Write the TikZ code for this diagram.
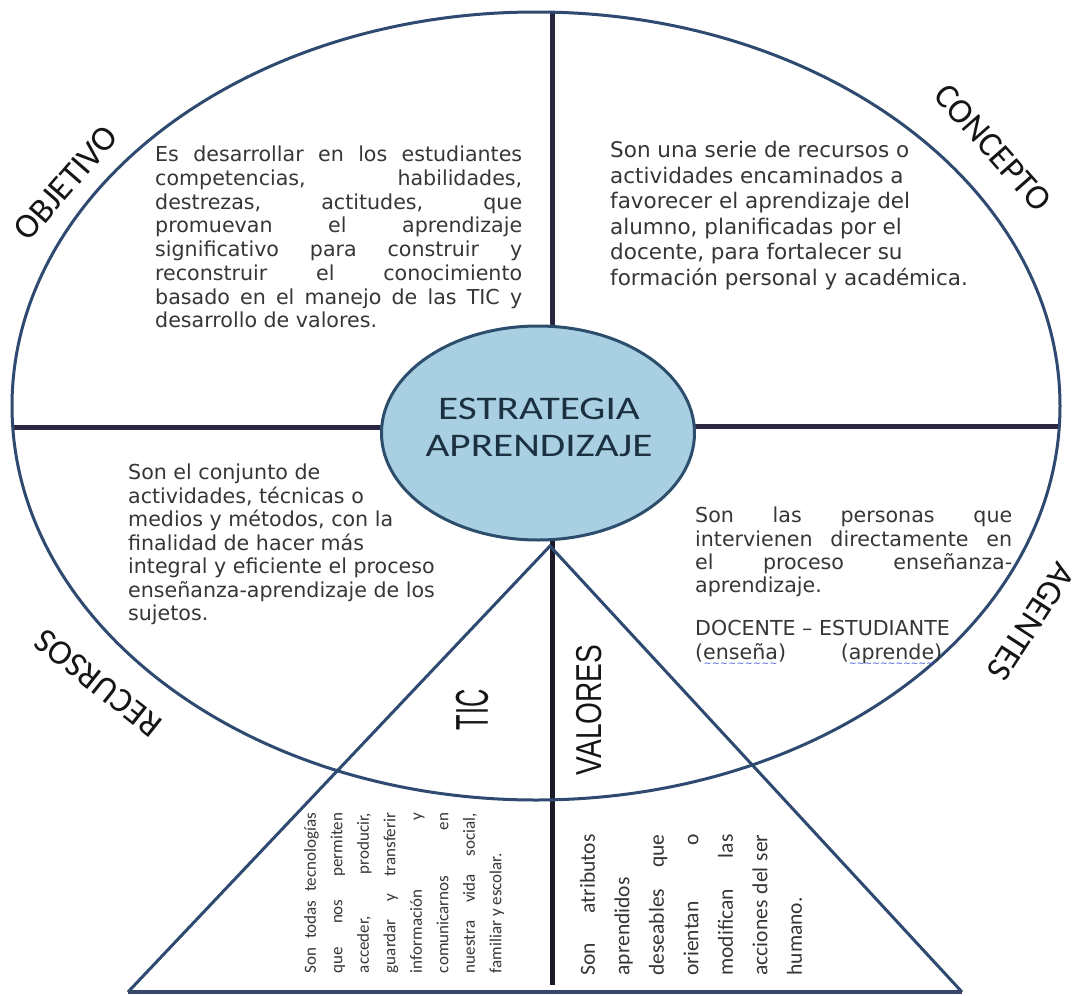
\documentclass[tikz,border=0pt]{standalone}
\usepackage{fontspec}
\setmainfont{DejaVu Sans}
\newfontfamily\carl{Carlito}
\newfontfamily\arialish{Liberation Sans}
\usetikzlibrary{shapes.geometric}
\pgfdeclarelayer{paper}
\pgfdeclarelayer{behind}
\pgfsetlayers{paper,behind,main}
\definecolor{ringblue}{HTML}{2F4A70}
\definecolor{divider}{HTML}{2A2840}
\definecolor{stemcol}{HTML}{1C1A28}
\definecolor{basecol}{HTML}{36476A}
\definecolor{hubfill}{HTML}{A9D0E2}
\definecolor{hubline}{HTML}{2C4E6C}
\definecolor{hubtext}{HTML}{1B3040}
\definecolor{bodytext}{HTML}{363636}
\definecolor{labeltext}{HTML}{151515}
\definecolor{wavecol}{HTML}{3848D0}
\newcommand{\bwave}[1]{\setbox0=\hbox{#1}\rlap{\raisebox{-7pt}[0pt][0pt]{\hbox to \wd0{\color{wavecol}\fontsize{9}{9}\selectfont\xleaders\hbox{\symbol{"223C}}\hfil}}}\box0}
\newcommand{\jline}[2]{\makebox[#1][s]{#2}}
\begin{document}
\begin{tikzpicture}[x=1pt,y=-1pt,
  ringline/.style={draw=ringblue, line width=3pt},
  divline/.style={draw=divider, line width=5pt},
  body/.style={font=\fontsize{20.6}{23.7}\selectfont, text=bodytext, inner sep=0pt, align=left, anchor=north west},
  lbl/.style={font=\carl\fontsize{35}{40}\selectfont, text=labeltext, inner sep=0pt},
  vtext/.style={rotate=90, inner sep=0pt, align=left, text=bodytext},
  bigword/.style={rotate=90, inner sep=0pt, text=labeltext}]
\begin{pgfonlayer}{paper}
\fill[white] (0,0) rectangle (1080,996);
\end{pgfonlayer}
\useasboundingbox (0,0) rectangle (1080,996);

% outer ring and hub
\node[ellipse, ringline, minimum width=1048pt, minimum height=788pt, inner sep=0pt] (ring) at (536,406) {};
\node[ellipse, draw=hubline, line width=3pt, fill=hubfill, minimum width=313pt, minimum height=214pt, inner sep=0pt] (hub) at (538,433) {};
\node[font=\carl\fontsize{33}{37}\selectfont, text=hubtext, align=center, inner sep=0pt] (hubtxt) at (539,427)
  {\scalebox{1.25}[1]{ESTRATEGIA}\\\scalebox{1.25}[1]{APRENDIZAJE}};

% fixed points
\coordinate (ringN) at (552,12);
\coordinate (ringW) at (12,427);
\coordinate (ringE) at (1060,426);
\coordinate (apex) at (550,546);
\coordinate (baseL) at (128,992);
\coordinate (baseR) at (962,992);
\coordinate (stemEnd) at (552,985);

\begin{pgfonlayer}{behind}
\draw[divline] (ringN) -- (ringN |- hub.center);
\draw[divline] (ringW) -- (ringW -| hub.center);
\draw[divline] (ringE) -- (ringE -| hub.center);
\draw[divline, draw=stemcol] (stemEnd |- hub.center) -- (stemEnd);
\draw[ringline] (baseL) -- (apex) -- (baseR);
\end{pgfonlayer}
\draw[draw=basecol, line width=4.5pt] (baseL) -- (baseR);

% quadrant labels
\node[lbl, rotate=49] (lobj) at (66,183) {OBJETIVO};
\node[lbl, rotate=-48.6] (lcon) at (993,148) {CONCEPTO};
\node[lbl, rotate=141.6] (lrec) at (98,683) {RECURSOS};
\node[lbl, rotate=-123] (lage) at (1031,622) {AGENTES};

% quadrant texts
\node[body] (tobj) at (155,146) {%
\jline{367pt}{Es desarrollar en los estudiantes}\\
\jline{367pt}{competencias, habilidades,}\\
\jline{367pt}{destrezas, actitudes, que}\\
\jline{367pt}{promuevan el aprendizaje}\\
\jline{367pt}{significativo para construir y}\\
\jline{367pt}{reconstruir el conocimiento}\\
\jline{367pt}{basado en el manejo de las TIC y}\\
desarrollo de valores.};

\node[body, font=\fontsize{21.5}{25.5}\selectfont] (tcon) at (610,141) {%
Son una serie de recursos o\\
actividades encaminados a\\
favorecer el aprendizaje del\\
alumno, planificadas por el\\
docente, para fortalecer su\\
formación personal y académica.};

\node[body, font=\fontsize{20.6}{23.5}\selectfont] (trec) at (128,464) {%
Son el conjunto de\\
actividades, técnicas o\\
medios y métodos, con la\\
finalidad de hacer más\\
integral y eficiente el proceso\\
enseñanza-aprendizaje de los\\
sujetos.};

\node[body, font=\fontsize{20.6}{23.3}\selectfont] (tage) at (695,507) {%
\jline{317pt}{Son las personas que}\\
\jline{317pt}{intervienen directamente en}\\
\jline{317pt}{el proceso enseñanza-}\\
aprendizaje.\\[19.7pt]
DOCENTE – ESTUDIANTE\\
\jline{247pt}{(\bwave{enseña}) (\bwave{aprende})}};

% triangle titles
\node[bigword, font=\arialish\fontsize{46}{50}\selectfont] (ttic) at (472,710) {\scalebox{0.55}[1]{TIC}};
\node[bigword, font=\arialish\fontsize{36}{40}\selectfont] (tval) at (589,710) {\scalebox{0.78}[1]{VALORES}};

% triangle texts
\node[vtext, font=\carl\fontsize{17}{26.5}\selectfont] (dtic) at (404,893) {%
\jline{160pt}{Son todas tecnologías}\\
\jline{160pt}{que nos permiten}\\
\jline{160pt}{acceder, producir,}\\
\jline{160pt}{guardar y transferir}\\
\jline{160pt}{información y}\\
\jline{160pt}{comunicarnos en}\\
\jline{160pt}{nuestra vida social,}\\
familiar y escolar.};

\node[vtext, font=\carl\fontsize{21.5}{34.5}\selectfont] (dval) at (691,905) {%
\jline{141pt}{Son atributos}\\
aprendidos\\
\jline{141pt}{deseables que}\\
\jline{141pt}{orientan o}\\
\jline{141pt}{modifican las}\\
\jline{141pt}{acciones del ser}\\
humano.};
\end{tikzpicture}
\end{document}
